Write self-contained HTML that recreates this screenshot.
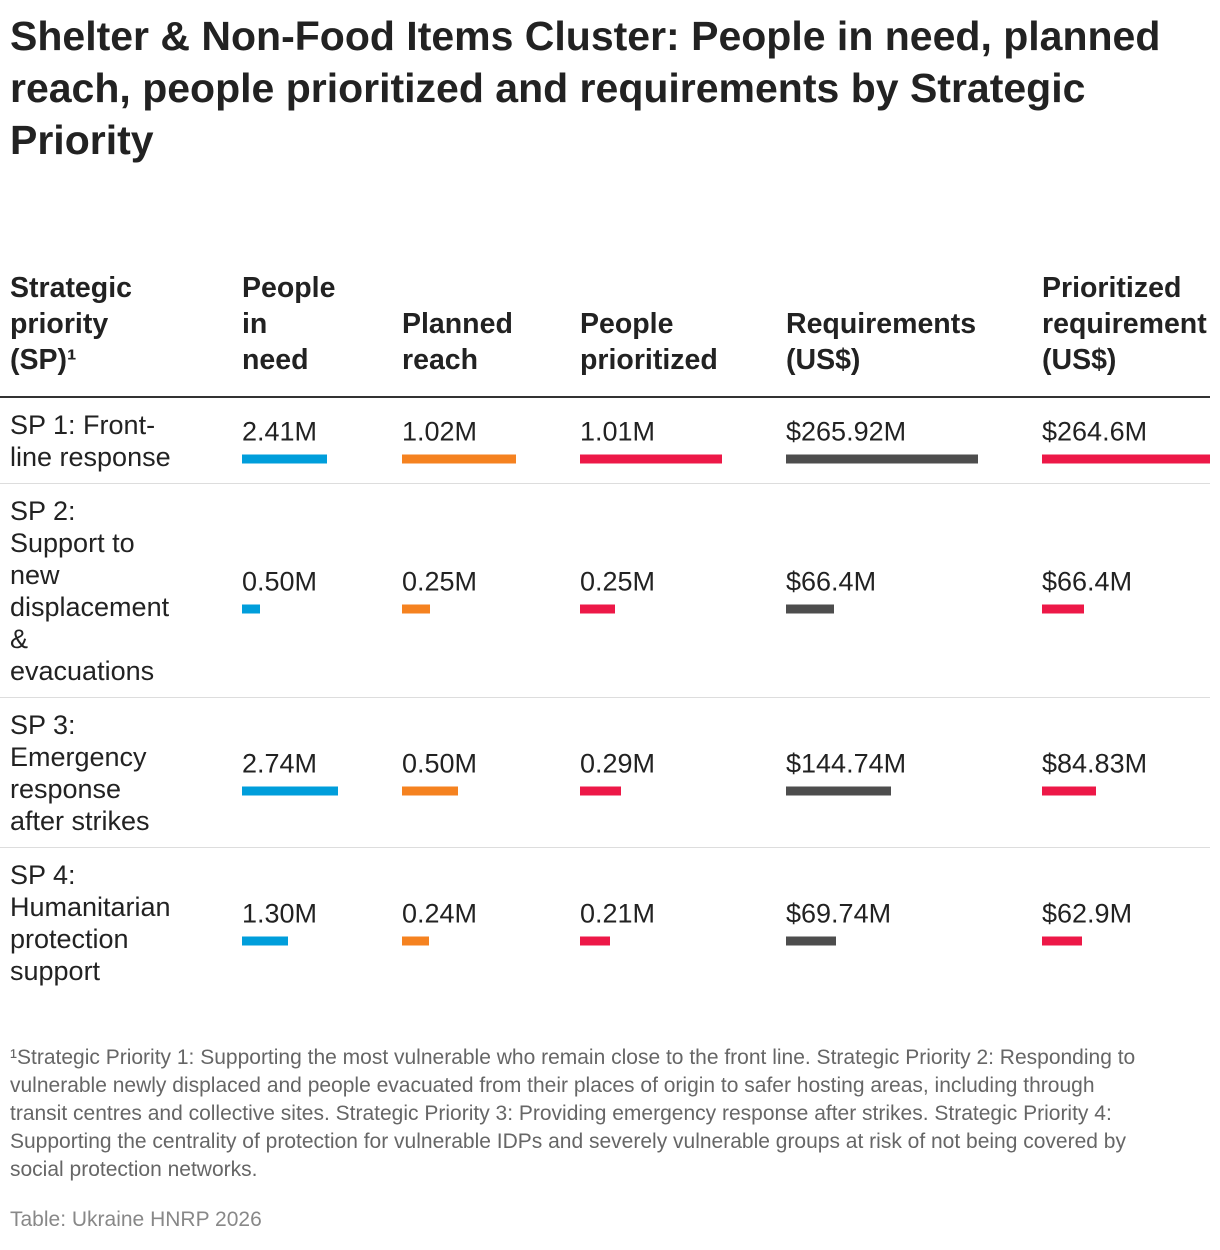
<!DOCTYPE html>
<html><head><meta charset="utf-8">
<style>
body{margin:0;width:1220px;height:1250px;background:#fff;font-family:"Liberation Sans",sans-serif;color:#1a1a1a;position:relative;overflow:hidden}
#title{position:absolute;left:10px;top:10px;width:1210px;font-size:41px;font-weight:bold;line-height:52px;margin:0;color:#222;white-space:nowrap}
#table{position:absolute;left:0;top:276px;width:1210px}
.hdr{display:flex;align-items:flex-end;height:122px;border-bottom:2px solid #333;box-sizing:border-box;padding-bottom:16px}
.hcell{font-size:28.5px;font-weight:bold;line-height:36px;color:#222;white-space:nowrap}
.row{display:flex;align-items:center;border-bottom:1px solid #ddd;box-sizing:border-box}
.row:last-child{border-bottom:none}
.lab{font-size:27px;line-height:32px;color:#222;white-space:nowrap}
.val{display:flex;flex-direction:column;margin-top:-1px}
.vt{font-size:27px;line-height:30px;color:#222;white-space:nowrap}
.bar{height:9px;margin-top:8px}
#foot{position:absolute;left:10px;top:1044px;width:1210px;font-size:21px;line-height:28px;color:#666;white-space:nowrap}
#src{position:absolute;left:10px;top:1208px;font-size:21px;color:#888}
</style></head><body>
<h1 id="title">Shelter &amp; Non-Food Items Cluster: People in need, planned<br>reach, people prioritized and requirements by Strategic<br>Priority</h1>
<div id="table"></div>
<div id="foot">¹Strategic Priority 1: Supporting the most vulnerable who remain close to the front line. Strategic Priority 2: Responding to<br>vulnerable newly displaced and people evacuated from their places of origin to safer hosting areas, including through<br>transit centres and collective sites. Strategic Priority 3: Providing emergency response after strikes. Strategic Priority 4:<br>Supporting the centrality of protection for vulnerable IDPs and severely vulnerable groups at risk of not being covered by<br>social protection networks.</div>
<div id="src">Table: Ukraine HNRP 2026</div>
<script>
const categories=["SP 1: Front-<br>line response","SP 2:<br>Support to<br>new<br>displacement<br>&amp;<br>evacuations","SP 3:<br>Emergency<br>response<br>after strikes","SP 4:<br>Humanitarian<br>protection<br>support"];
const peopleInNeed=[2.41,0.50,2.74,1.30];
const plannedReach=[1.02,0.25,0.50,0.24];
const peoplePrioritized=[1.01,0.25,0.29,0.21];
const requirements=[265.92,66.4,144.74,69.74];
const prioritizedReq=[264.6,66.4,84.83,62.9];
const headers=["Strategic<br>priority<br>(SP)¹","People<br>in<br>need","Planned<br>reach","People<br>prioritized","Requirements<br>(US$)","Prioritized<br>requirement<br>(US$)"];
const valueLabels=[["2.41M","0.50M","2.74M","1.30M"],["1.02M","0.25M","0.50M","0.24M"],["1.01M","0.25M","0.29M","0.21M"],["$265.92M","$66.4M","$144.74M","$69.74M"],["$264.6M","$66.4M","$84.83M","$62.9M"]];
const series=[peopleInNeed,plannedReach,peoplePrioritized,requirements,prioritizedReq];
const colX=[10,242,402,580,786,1042];
const scale=[35.2,112,141,0.723,0.635];
const colors=["#009edb","#f58220","#ed1847","#4d4d4d","#ed1847"];
const names=["people-in-need","planned-reach","people-prioritized","requirements","prioritized-requirements"];
const rowH=[86,214,150,150];
const t=document.getElementById('table');
const h=document.createElement('div');h.className='hdr';


headers.forEach((x,i)=>{const c=document.createElement('div');c.className='hcell';c.innerHTML=x;
c.style.position='absolute';c.style.left=colX[i]+'px';c.style.bottom='18px';


h.appendChild(c);});
h.style.position='relative';h.style.overflow='hidden';t.appendChild(h);
categories.forEach((cat,r)=>{
const row=document.createElement('div');row.className='row';row.style.height=rowH[r]+'px';row.style.position='relative';


const l=document.createElement('div');l.className='lab';l.innerHTML=cat;l.style.position='absolute';l.style.left='10px';l.style.top='50%';l.style.transform='translateY(-50%)';


row.appendChild(l);
series.forEach((s,c)=>{
const v=document.createElement('div');v.className='val';v.style.position='absolute';v.style.left=colX[c+1]+'px';v.style.top='50%';v.style.transform='translateY(-50%)';


const tx=document.createElement('div');tx.className='vt';tx.textContent=valueLabels[c][r];


const b=document.createElement('div');b.className='bar';b.style.width=(s[r]*scale[c])+'px';b.style.background=colors[c];


v.appendChild(tx);v.appendChild(b);row.appendChild(v);});
t.appendChild(row);});
</script>
</body></html>
